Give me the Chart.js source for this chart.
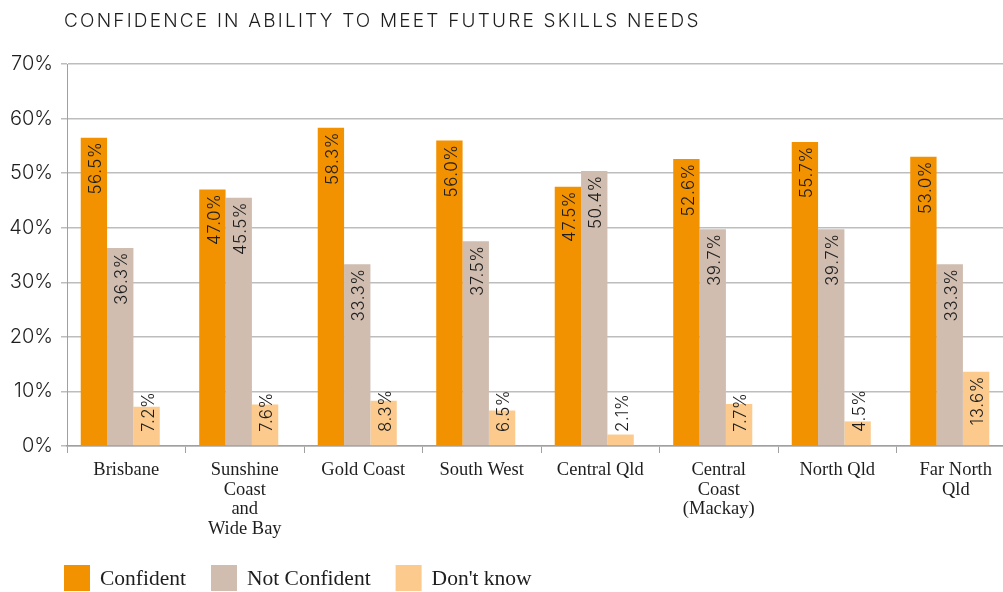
<!DOCTYPE html>
<html>
<head>
<meta charset="utf-8">
<script src="https://cdn.jsdelivr.net/npm/chart.js@4"></script>
<style>
    html, body { margin: 0; padding: 0; background: #fff; overflow: hidden; }
    #wrap { width: 1016px; height: 592px; }
</style>
</head>
<body>
<div id="wrap"><canvas id="skills"></canvas></div>
<script>
const chartTitle = 'CONFIDENCE IN ABILITY TO MEET FUTURE SKILLS NEEDS';
const regions = [
    'Brisbane',
    ['Sunshine', 'Coast', 'and', 'Wide Bay'],
    'Gold Coast',
    'South West',
    'Central Qld',
    ['Central', 'Coast', '(Mackay)'],
    'North Qld',
    ['Far North', 'Qld']
];
const confident = [56.5, 47.0, 58.3, 56.0, 47.5, 52.6, 55.7, 53.0];
const notConfident = [36.3, 45.5, 33.3, 37.5, 50.4, 39.7, 39.7, 33.3];
const dontKnow = [7.2, 7.6, 8.3, 6.5, 2.1, 7.7, 4.5, 13.6];
const yTicks = [0, 10, 20, 30, 40, 50, 60, 70];

const sansFont = 'Inter, "Noto Sans", sans-serif';
const serifFont = '"Liberation Serif", "DejaVu Serif", serif';
const textColor = '#1e1e1e';
// группа столбцов чуть смещена влево от центра категории
const barShift = -6;

// заголовок в разрядку над графиком
const titleText = {
    id: 'titleText',
    afterDraw(chart) {
        const ctx = chart.ctx;
        ctx.save();
        ctx.font = '300 19px ' + sansFont;
        ctx.letterSpacing = '2.2px';
        ctx.fillStyle = textColor;
        ctx.textBaseline = 'middle';
        ctx.fillText(chartTitle, chart.chartArea.left - 3, 21);
        ctx.restore();
    }
};

const shiftBars = {
    id: 'shiftBars',
    beforeDatasetsDraw(chart) {
        chart.ctx.save();
        chart.ctx.translate(barShift, 0);
    },
    afterDatasetsDraw(chart) {
        chart.ctx.restore();
    }
};

// подписи значений, повернутые вдоль столбца
const valueLabels = {
    id: 'valueLabels',
    afterDatasetsDraw(chart) {
        const ctx = chart.ctx;
        const base = chart.scales.y.getPixelForValue(0);
        ctx.save();
        ctx.font = '300 17px ' + sansFont;
        ctx.letterSpacing = '0.5px';
        ctx.fillStyle = textColor;
        chart.data.datasets.forEach((ds, i) => {
            chart.getDatasetMeta(i).data.forEach((bar, j) => {
                const text = ds.data[j].toFixed(1) + '%';
                const w = ctx.measureText(text).width;
                const top = Math.min(bar.y + 4, base - 14 - w);
                ctx.save();
                ctx.translate(bar.x + barShift + 2, top);
                ctx.rotate(-Math.PI / 2);
                ctx.textAlign = 'right';
                ctx.textBaseline = 'middle';
                ctx.fillText(text, 0, 0);
                ctx.restore();
            });
        });
        ctx.restore();
    }
};

// легенда снизу: квадрат + подпись
const bottomLegend = {
    id: 'bottomLegend',
    afterDraw(chart) {
        const ctx = chart.ctx;
        ctx.save();
        ctx.font = '21.5px ' + serifFont;
        ctx.textBaseline = 'middle';
        let x = 64;
        const y = 565;
        chart.data.datasets.forEach(ds => {
            ctx.fillStyle = ds.backgroundColor;
            ctx.fillRect(x, y, 26, 26);
            ctx.fillStyle = textColor;
            ctx.fillText(ds.label, x + 36, y + 14);
            x += 36 + ctx.measureText(ds.label).width + 25;
        });
        ctx.restore();
    }
};

new Chart(document.getElementById('skills'), {
    type: 'bar',
    data: {
        labels: regions,
        datasets: [
            {label: 'Confident', data: confident, backgroundColor: '#f39200'},
            {label: 'Not Confident', data: notConfident, backgroundColor: '#d0bdb0'},
            {label: "Don't know", data: dontKnow, backgroundColor: '#fbca8c'}
        ]
    },
    options: {
        responsive: true,
        maintainAspectRatio: false,
        animation: false,
        categoryPercentage: 0.667,
        barPercentage: 1,
        layout: {padding: {left: 0, right: 1, top: 64, bottom: 0}},
        plugins: {
            legend: {display: false},
            tooltip: {enabled: false},
            title: {display: false}
        },
        scales: {
            x: {
                grid: {
                    offset: true,
                    drawOnChartArea: false,
                    drawTicks: true,
                    tickLength: 7,
                    color: '#a0a0a0'
                },
                border: {display: true, color: '#a0a0a0', width: 1.5},
                ticks: {
                    color: textColor,
                    font: {family: serifFont, size: 18.5, lineHeight: 1.07},
                    padding: 7,
                    maxRotation: 0,
                    autoSkip: false
                },
                afterFit(scale) { scale.height = 146; }
            },
            y: {
                min: 0,
                max: 70,
                afterBuildTicks(scale) { scale.ticks = yTicks.map(v => ({value: v})); },
                grid: {
                    color: '#bdbdbd',
                    lineWidth: 1.5,
                    tickLength: 6
                },
                border: {display: true, color: '#a0a0a0', width: 1},
                ticks: {
                    color: textColor,
                    font: {family: sansFont, size: 20, weight: '300'},
                    padding: 8,
                    callback: v => v + '%'
                },
                afterFit(scale) { scale.width = 67; }
            }
        }
    },
    plugins: [shiftBars, valueLabels, titleText, bottomLegend]
});
</script>
</body>
</html>
